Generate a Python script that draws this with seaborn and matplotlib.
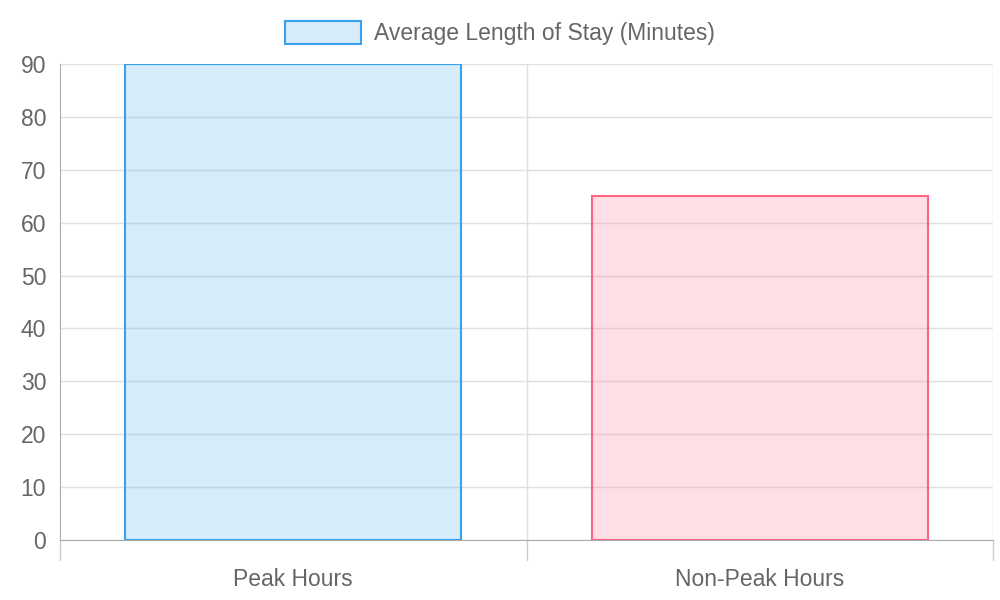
import matplotlib
matplotlib.use("Agg")
import matplotlib.pyplot as plt
import seaborn as sns
import pandas as pd
from matplotlib.patches import Patch

categories = ["Peak Hours", "Non-Peak Hours"]
values = [90, 65]
series_label = "Average Length of Stay (Minutes)"
y_ticks = list(range(0, 91, 10))

sns.set_style("white")
plt.rcParams['font.family'] = ['Liberation Sans', 'DejaVu Sans']

border = [(54/255, 162/255, 235/255), (255/255, 99/255, 132/255)]
fill = [(c[0], c[1], c[2], 0.2) for c in border]

df = pd.DataFrame({"cat": categories, "val": values})
fig = plt.figure(figsize=(10, 6), dpi=100)
ax = fig.add_axes([0.06, 0.1, 0.933, 0.7933])
sns.barplot(data=df, x="cat", y="val", hue="cat", palette=border, width=0.72,
            legend=False, ax=ax, zorder=3)
for p, f, b in zip(ax.patches, fill, border):
    p.set_facecolor(f)
    p.set_edgecolor(b)
    p.set_linewidth(1.5)

ax.set_xlim(-0.5, 1.5)
ax.set_ylim(0, 90)
ax.set_yticks(y_ticks)
ax.set_xlabel("")
ax.set_ylabel("")
for y in y_ticks:
    ax.axhline(y, color="#e0e0e0", lw=1, zorder=0)
for x in [0.5, 1.5]:
    ax.axvline(x, color="#e0e0e0", lw=1, zorder=0)
for s in ["top", "right"]:
    ax.spines[s].set_visible(False)
for s in ["left", "bottom"]:
    ax.spines[s].set_color("#aaaaaa")
ax.tick_params(axis="y", colors="#666666", labelsize=16.5, length=8, color="#e0e0e0", pad=2)
ax.tick_params(axis="x", colors="#666666", labelsize=16.5, length=0, pad=20)
for x in [-0.5, 0.5, 1.5]:
    ax.plot([x, x], [0, -0.042 * 90], color="#cccccc", lw=1, clip_on=False)

handle = Patch(facecolor=fill[0], edgecolor=border[0], linewidth=1.5)
fig.legend([handle], [series_label], loc="upper center", bbox_to_anchor=(0.5, 1.0),
           frameon=False, fontsize=16.5, handlelength=3.3, handleheight=1.2,
           handletextpad=0.6, labelcolor="#666666")
fig.savefig("out.png", dpi=100)
